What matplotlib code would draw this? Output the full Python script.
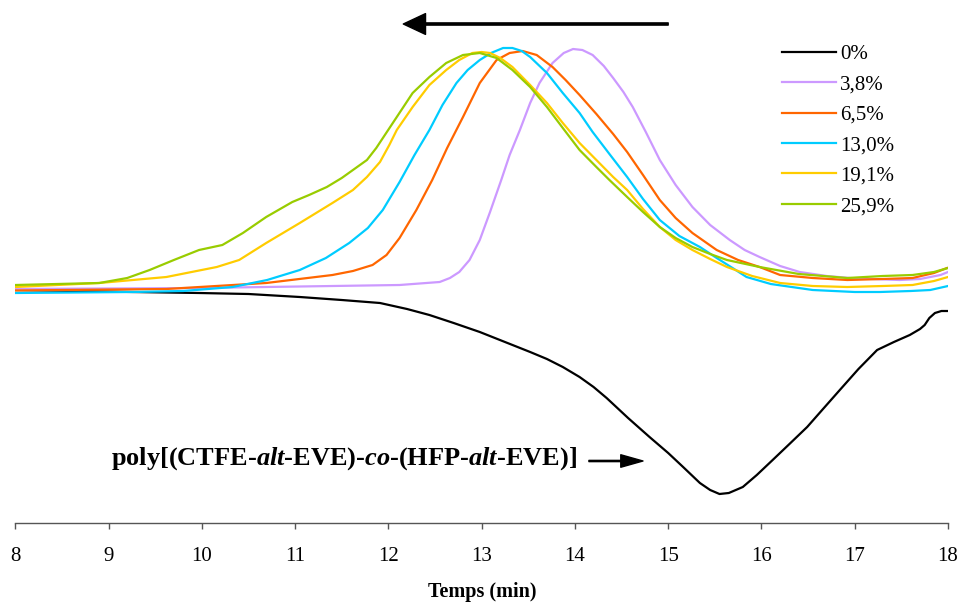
import matplotlib
matplotlib.use("Agg")
import matplotlib.pyplot as plt

plt.rcParams['font.family'] = ['Liberation Serif', 'DejaVu Serif']
plt.rcParams['mathtext.fontset'] = 'custom'
plt.rcParams['mathtext.rm'] = 'Liberation Serif:bold'
plt.rcParams['mathtext.it'] = 'Liberation Serif:italic:bold'

# time (min) and detector signal (arbitrary units)
t_0 = [8.00, 9.26, 9.97, 10.50, 11.05, 11.50, 11.91, 12.20, 12.44, 12.70, 12.98, 13.25,
       13.52, 13.70, 13.87, 14.05, 14.20, 14.34, 14.57, 14.80, 15.00, 15.16, 15.34, 15.45,
       15.55, 15.65, 15.80, 15.95, 16.12, 16.30, 16.49, 16.66, 16.84, 17.04, 17.24, 17.42,
       17.59, 17.70, 17.75, 17.80, 17.86, 17.93, 18.00]
s_0 = [10, 8, 7, 6, 3, 0, -3, -9, -15, -23, -32, -42,
       -52, -59, -67, -77, -87, -98, -118, -137, -153, -167, -183, -190,
       -194, -193, -187, -175, -160, -144, -127, -109, -90, -69, -50, -42,
       -35, -29, -25, -18, -13, -11, -11]

t_38 = [8.00, 9.97, 12.12, 12.55, 12.66, 12.76, 12.87, 12.98, 13.09, 13.21, 13.30, 13.41,
        13.52, 13.62, 13.76, 13.88, 13.98, 14.08, 14.19, 14.31, 14.41, 14.52, 14.62, 14.76,
        14.91, 15.08, 15.26, 15.45, 15.66, 15.82, 15.98, 16.20, 16.41, 16.70, 16.95, 17.20,
        17.48, 17.70, 17.81, 17.92, 18.00]
s_38 = [11, 12, 15, 18, 22, 28, 40, 60, 88, 120, 145, 170,
        197, 217, 237, 247, 251, 250, 245, 234, 222, 208, 193, 168,
        140, 115, 93, 75, 60, 50, 43, 34, 28, 24, 22, 21,
        20, 21, 23, 25, 28]

t_65 = [8.00, 9.62, 10.69, 11.40, 11.62, 11.83, 11.98, 12.12, 12.30, 12.47, 12.63, 12.80,
        12.98, 13.16, 13.30, 13.44, 13.59, 13.76, 13.90, 14.05, 14.23, 14.41, 14.56, 14.73,
        14.91, 15.08, 15.26, 15.52, 15.75, 15.98, 16.20, 16.55, 16.92, 17.30, 17.62, 17.85,
        17.99]
s_65 = [9.5, 11, 17, 25, 29, 35, 45, 62, 90, 120, 152, 183,
        217, 240, 247, 249, 245, 233, 220, 205, 186, 166, 148, 125,
        100, 82, 67, 50, 40, 33, 25, 22, 20, 21, 22, 27,
        32]

t_130 = [8.00, 9.26, 9.80, 10.33, 10.70, 11.05, 11.33, 11.58, 11.78, 11.94, 12.12, 12.28,
         12.44, 12.58, 12.73, 12.85, 12.98, 13.10, 13.23, 13.33, 13.43, 13.52, 13.70, 13.87,
         14.05, 14.19, 14.37, 14.56, 14.73, 14.91, 15.12, 15.34, 15.52, 15.69, 15.84, 16.10,
         16.55, 17.00, 17.27, 17.60, 17.81, 18.00]
s_130 = [7, 8, 9, 13, 20, 30, 42, 57, 72, 90, 118, 145,
         170, 195, 217, 230, 240, 247, 252, 252, 249, 243, 227, 207,
         187, 168, 146, 123, 101, 80, 64, 53, 42, 32, 23, 16,
         10, 8, 8, 9, 10, 14]

t_191 = [8.00, 8.90, 9.62, 10.16, 10.40, 10.69, 11.05, 11.40, 11.62, 11.77, 11.91, 12.01,
         12.09, 12.26, 12.44, 12.62, 12.76, 12.90, 13.00, 13.09, 13.20, 13.33, 13.52, 13.70,
         13.87, 14.05, 14.23, 14.41, 14.56, 14.73, 14.91, 15.08, 15.26, 15.45, 15.63, 15.90,
         16.20, 16.55, 16.92, 17.30, 17.62, 17.85, 18.00]
s_191 = [13, 17, 23, 33, 40, 57, 77, 97, 110, 123, 138, 155,
         170, 193, 215, 230, 240, 247, 248, 247, 242, 233, 215, 197,
         177, 157, 140, 123, 110, 91, 73, 60, 50, 41, 33, 24,
         17, 14, 13, 14, 15, 19, 23]

t_259 = [8.00, 8.90, 9.20, 9.44, 9.70, 9.97, 10.22, 10.44, 10.69, 10.97, 11.15, 11.34,
         11.50, 11.62, 11.77, 11.87, 12.09, 12.26, 12.44, 12.62, 12.80, 12.98, 13.16, 13.33,
         13.52, 13.70, 13.87, 14.05, 14.23, 14.37, 14.56, 14.73, 14.91, 15.08, 15.26, 15.45,
         15.63, 15.98, 16.40, 16.92, 17.30, 17.62, 17.85, 18.00]
s_259 = [15, 17, 22, 30, 40, 50, 55, 67, 83, 98, 105, 113,
         122, 130, 140, 152, 183, 207, 223, 237, 245, 247, 242, 230,
         213, 193, 172, 150, 133, 120, 103, 88, 73, 62, 53, 46,
         40, 33, 26, 22, 24, 25, 28, 32]

labels = ["0%", "3,8%", "6,5%", "13,0%", "19,1%", "25,9%"]
colors = ["#000000", "#cc99ff", "#ff6600", "#00ccff", "#ffcc00", "#99cc00"]
times = [t_0, t_38, t_65, t_130, t_191, t_259]
signals = [s_0, s_38, s_65, s_130, s_191, s_259]

fig = plt.figure(figsize=(9.58, 6.03), dpi=100)
ax = fig.add_axes([15.3 / 958, 80 / 603, (948 - 15.3) / 958, 523 / 603])

for t, s, lab, c in zip(times, signals, labels, colors):
    ax.plot(t, s, color=c, lw=1.6, label=lab)

ax.set_xlim(8, 18)
ax.set_ylim(-223, 300)
ax.set_xticks(range(8, 19))
ax.set_yticks([])
for side in ["left", "right", "top"]:
    ax.spines[side].set_visible(False)
ax.spines["bottom"].set_color("#555555")
ax.spines["bottom"].set_linewidth(1.0)
ax.tick_params(axis="x", direction="out", length=4, width=1, color="#555555",
               labelsize=15, pad=13)

leg = ax.legend(loc="upper left", bbox_to_anchor=(0.822, 0.915), frameon=False,
                fontsize=15, handlelength=2.6, handletextpad=0.2,
                labelspacing=0.52, borderpad=0, borderaxespad=0)

# arrow showing the shift of the peaks
ax.annotate("", xy=(12.16, 276), xytext=(15.0, 276),
            arrowprops=dict(width=1.6, headwidth=15, headlength=16, shrink=0,
                            facecolor="black", edgecolor="black"))

ax.text(9.03, -165, r"poly[(CTFE-$\mathit{alt}$-EVE)-$\mathit{co}$-(HFP-$\mathit{alt}$-EVE)]",
        fontsize=19, fontweight="bold", va="baseline", ha="left")
ax.annotate("", xy=(14.73, -161), xytext=(14.15, -161),
            arrowprops=dict(width=0.9, headwidth=9, headlength=16, shrink=0,
                            facecolor="black", edgecolor="black"))

fig.text(0.503, 1 - 592 / 603, "Temps (min)", fontsize=14.5, fontweight="bold",
         ha="center", va="center")

fig.savefig("out.png", dpi=100)
